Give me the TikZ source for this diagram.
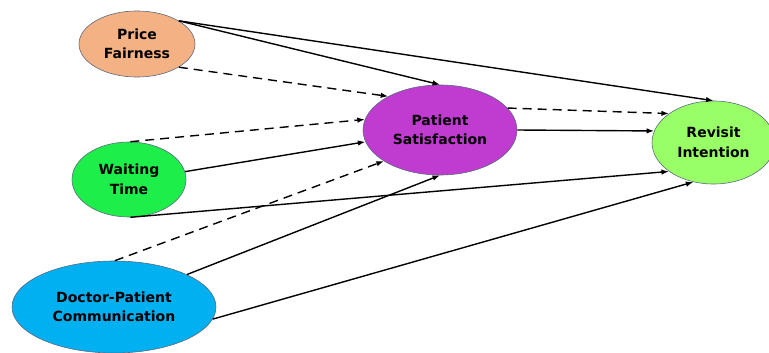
\documentclass[tikz,border=0pt]{standalone}
\usepackage{fontspec}
\setmainfont{DejaVu Sans}
\usetikzlibrary{shapes.geometric,arrows.meta}
\definecolor{pfcol}{HTML}{F4B183}
\definecolor{wtcol}{HTML}{1EEE4A}
\definecolor{pscol}{HTML}{C03BCF}
\definecolor{ricol}{HTML}{99FF66}
\definecolor{dpcol}{HTML}{00B0F0}
\definecolor{edgecol}{HTML}{5A6A80}
\tikzset{
  construct/.style={ellipse, draw=edgecol, line width=0.6pt, inner sep=0pt,
    font=\bfseries\fontsize{14}{19.5}\selectfont, align=center},
  path/.style={line width=1.4pt, -{Latex[length=7.5pt,width=5.5pt]}},
  dpath/.style={path, dash pattern=on 9pt off 6pt}
}
\begin{document}
\begin{tikzpicture}[x=1pt,y=-1pt]
\useasboundingbox (0,0) rectangle (769,353);
\clip (0,0) rectangle (769,353);
\node[construct, fill=pfcol, minimum width=116pt, minimum height=66pt] (pf) at (137,44) {Price\\Fairness};
\node[construct, fill=wtcol, minimum width=114pt, minimum height=75pt] (wt) at (129,179.5) {Waiting\\Time};
\node[construct, fill=pscol, minimum width=154pt, minimum height=90pt] (ps) at (440,130) {Patient\\Satisfaction};
\node[construct, fill=ricol, minimum width=123pt, minimum height=83pt] (ri) at (713.5,142.5) {Revisit\\Intention};
\node[construct, fill=dpcol, minimum width=204pt, minimum height=92pt] (dp) at (114,307) {Doctor-Patient\\Communication};
% Price Fairness
\draw[path] (pf.29) -- (ps.90);
\draw[path] (pf.29) -- (ri.90);
\draw[dpath] (pf.-29) -- (ps.147.6);
% Waiting Time
\draw[dpath] (wt.88) -- (ps.172.4);
\draw[path] (wt.8) -- (ps.-171);
\draw[path] (wt.-88) -- (ri.-147);
% Doctor-Patient Communication
\draw[dpath] (dp.89) -- (ps.-151.4);
\draw[path] (dp.24.3) -- (ps.-90);
\draw[path] (dp.-7) -- (ri.-117);
% Patient Satisfaction
\draw[dpath] (ps.18.9) -- (ri.147.2);
\draw[path] (ps.0) -- (ri.169);
\end{tikzpicture}
\end{document}
